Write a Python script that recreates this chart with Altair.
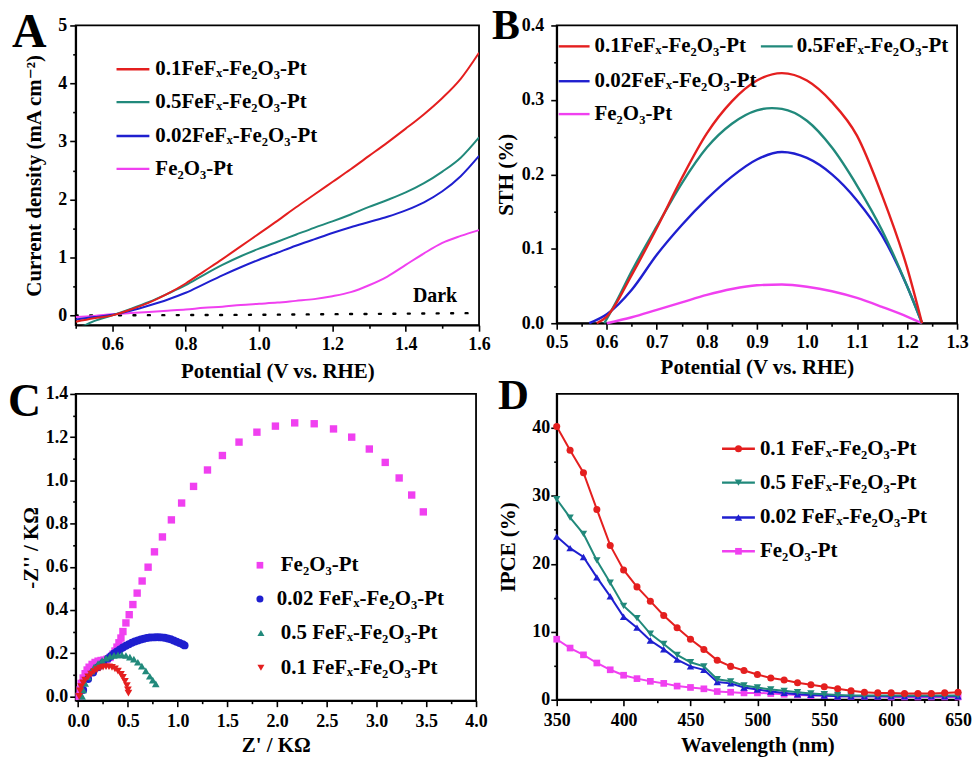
import altair as alt
import pandas as pd

SERIF = "Liberation Serif, Times New Roman, DejaVu Serif, serif"
RED, TEAL, BLUE, MAGENTA = "#e41f1f", "#21897b", "#1f1fcf", "#f040f0"

# ---------------- Panel A: J-V curves ----------------
a_v = [0.50, 0.55, 0.60, 0.65, 0.70, 0.75, 0.80, 0.85, 0.90, 0.95, 1.00, 1.05,
       1.10, 1.15, 1.20, 1.25, 1.30, 1.35, 1.40, 1.45, 1.50, 1.55, 1.60]
a_red = [-0.11, -0.05, 0.00, 0.10, 0.22, 0.37, 0.55, 0.76, 0.97, 1.19, 1.41, 1.63,
         1.86, 2.08, 2.30, 2.52, 2.75, 2.98, 3.22, 3.47, 3.75, 4.08, 4.53]
a_teal = [-0.25, -0.10, 0.00, 0.11, 0.23, 0.37, 0.52, 0.70, 0.87, 1.02, 1.15, 1.27,
          1.39, 1.51, 1.62, 1.74, 1.87, 1.99, 2.12, 2.28, 2.48, 2.72, 3.07]
a_blue = [-0.07, -0.03, 0.01, 0.08, 0.17, 0.27, 0.39, 0.54, 0.69, 0.83, 0.96, 1.08,
          1.20, 1.31, 1.42, 1.52, 1.61, 1.70, 1.81, 1.95, 2.14, 2.40, 2.75]
a_mag = [-0.03, -0.01, 0.02, 0.04, 0.06, 0.08, 0.10, 0.13, 0.15, 0.18, 0.20, 0.22,
         0.25, 0.28, 0.33, 0.40, 0.52, 0.67, 0.87, 1.07, 1.25, 1.37, 1.47]
dark_v = [0.50, 0.80, 1.00, 1.20, 1.40, 1.60]
dark_j = [0.00, 0.005, 0.01, 0.02, 0.03, 0.04]

# ---------------- Panel B: STH efficiency ----------------
b_red_v = [0.58, 0.60, 0.65, 0.70, 0.75, 0.80, 0.85, 0.90, 0.95, 1.00, 1.05, 1.10, 1.15, 1.20, 1.23]
b_red = [0.000, 0.009, 0.065, 0.128, 0.195, 0.255, 0.298, 0.326, 0.336, 0.326, 0.297, 0.252, 0.172, 0.075, 0.000]
b_teal_v = [0.595, 0.62, 0.65, 0.70, 0.75, 0.80, 0.85, 0.90, 0.93, 0.95, 1.00, 1.05, 1.10, 1.15, 1.20, 1.23]
b_teal = [0.000, 0.030, 0.070, 0.130, 0.188, 0.236, 0.268, 0.286, 0.289, 0.288, 0.272, 0.236, 0.185, 0.125, 0.050, 0.000]
b_blue_v = [0.565, 0.60, 0.65, 0.70, 0.75, 0.80, 0.85, 0.90, 0.95, 1.00, 1.05, 1.10, 1.15, 1.20, 1.23]
b_blue = [0.000, 0.012, 0.045, 0.092, 0.132, 0.167, 0.197, 0.220, 0.230, 0.222, 0.200, 0.165, 0.118, 0.050, 0.000]
b_mag_v = [0.60, 0.65, 0.70, 0.75, 0.80, 0.85, 0.90, 0.95, 1.00, 1.05, 1.10, 1.15, 1.20, 1.23]
b_mag = [0.000, 0.008, 0.018, 0.028, 0.038, 0.046, 0.051, 0.052, 0.049, 0.043, 0.034, 0.022, 0.009, 0.000]

# ---------------- Panel C: Nyquist plots ----------------
c_mag_x = [0.01, 0.02, 0.03, 0.05, 0.07, 0.09, 0.11, 0.14, 0.17, 0.20, 0.23, 0.26, 0.29, 0.32,
           0.35, 0.37, 0.39, 0.41, 0.43, 0.45, 0.48, 0.513, 0.55, 0.593, 0.643, 0.703, 0.767,
           0.847, 0.937, 1.04, 1.16, 1.30, 1.45, 1.617, 1.797, 1.983, 2.177, 2.373, 2.567,
           2.75, 2.927, 3.087, 3.227, 3.353, 3.47]
c_mag_y = [0.00, 0.03, 0.06, 0.085, 0.105, 0.122, 0.135, 0.148, 0.157, 0.163, 0.166, 0.168, 0.172, 0.18,
           0.195, 0.21, 0.228, 0.248, 0.27, 0.30, 0.34, 0.378, 0.425, 0.478, 0.534, 0.598, 0.669,
           0.738, 0.817, 0.895, 0.972, 1.048, 1.115, 1.177, 1.223, 1.251, 1.266, 1.262, 1.238,
           1.20, 1.145, 1.083, 1.011, 0.932, 0.854]
c_blue_x = [0.05, 0.10, 0.15, 0.20, 0.25, 0.30, 0.33, 0.36, 0.39, 0.42, 0.45, 0.48, 0.51, 0.54,
            0.57, 0.60, 0.63, 0.66, 0.69, 0.72, 0.75, 0.78, 0.81, 0.84, 0.87, 0.90, 0.93, 0.96,
            0.99, 1.02, 1.05, 1.07]
c_blue_y = [0.03, 0.08, 0.11, 0.135, 0.155, 0.175, 0.187, 0.198, 0.208, 0.217, 0.226, 0.234, 0.241, 0.248,
            0.254, 0.259, 0.263, 0.267, 0.270, 0.272, 0.273, 0.274, 0.274, 0.273, 0.271, 0.268, 0.264, 0.259,
            0.253, 0.247, 0.241, 0.236]
c_teal_x = [0.04, 0.05, 0.07, 0.10, 0.13, 0.16, 0.20, 0.24, 0.28, 0.32, 0.36, 0.40, 0.44, 0.48,
            0.52, 0.56, 0.60, 0.64, 0.68, 0.72, 0.75, 0.78]
c_teal_y = [0.00, 0.03, 0.06, 0.09, 0.115, 0.135, 0.152, 0.166, 0.177, 0.185, 0.190, 0.192, 0.192, 0.189,
            0.182, 0.172, 0.158, 0.140, 0.118, 0.093, 0.075, 0.058]
c_red_x = [0.01, 0.02, 0.03, 0.05, 0.07, 0.10, 0.13, 0.16, 0.19, 0.22, 0.25, 0.28, 0.31, 0.34,
           0.37, 0.40, 0.43, 0.45, 0.47, 0.49, 0.50, 0.505]
c_red_y = [0.00, 0.025, 0.045, 0.062, 0.075, 0.090, 0.103, 0.115, 0.124, 0.131, 0.135, 0.137, 0.137, 0.134,
           0.127, 0.117, 0.102, 0.088, 0.070, 0.050, 0.030, 0.015]

# ---------------- Panel D: IPCE spectra ----------------
d_wl = [350, 360, 370, 380, 390, 400, 410, 420, 430, 440, 450, 460, 470, 480, 490, 500,
        510, 520, 530, 540, 550, 560, 570, 580, 590, 600, 610, 620, 630, 640, 650]
d_red = [40.2, 36.7, 33.4, 28.0, 22.7, 19.1, 16.6, 14.5, 12.4, 10.6, 8.9, 7.4, 5.8, 4.9, 4.3, 3.7,
         3.2, 2.9, 2.5, 2.2, 1.9, 1.6, 1.3, 1.1, 1.0, 1.0, 0.9, 0.9, 0.9, 1.0, 1.1]
d_teal = [29.5, 26.8, 24.4, 20.5, 17.2, 13.8, 12.0, 9.7, 8.2, 6.6, 5.5, 4.9, 3.0, 2.7, 2.1, 1.8,
          1.5, 1.3, 1.1, 0.9, 0.8, 0.7, 0.6, 0.6, 0.6, 0.6, 0.6, 0.6, 0.6, 0.6, 0.6]
d_blue = [24.0, 22.3, 21.0, 18.0, 15.2, 12.2, 10.6, 8.7, 7.4, 5.9, 4.9, 4.4, 2.6, 2.4, 1.8, 1.5,
          1.2, 1.0, 0.8, 0.7, 0.6, 0.5, 0.5, 0.5, 0.5, 0.5, 0.5, 0.5, 0.5, 0.5, 0.5]
d_mag = [8.9, 7.6, 6.6, 5.4, 4.4, 3.6, 3.1, 2.7, 2.4, 2.0, 1.8, 1.6, 1.2, 1.1, 1.0, 1.0,
         0.9, 0.8, 0.7, 0.6, 0.6, 0.5, 0.5, 0.5, 0.5, 0.4, 0.4, 0.4, 0.4, 0.4, 0.4]

# Tick positions (major + minor) for each axis
a_xticks = [0.5, 0.6, 0.7, 0.8, 0.9, 1.0, 1.1, 1.2, 1.3, 1.4, 1.5, 1.6]
a_yticks = [0, 0.5, 1, 1.5, 2, 2.5, 3, 3.5, 4, 4.5, 5]
b_xticks = [0.5, 0.55, 0.6, 0.65, 0.7, 0.75, 0.8, 0.85, 0.9, 0.95, 1.0, 1.05, 1.1, 1.15, 1.2, 1.25, 1.3]
b_yticks = [0, 0.05, 0.1, 0.15, 0.2, 0.25, 0.3, 0.35, 0.4]
c_xticks = [0, 0.25, 0.5, 0.75, 1.0, 1.25, 1.5, 1.75, 2.0, 2.25, 2.5, 2.75, 3.0, 3.25, 3.5, 3.75, 4.0]
c_yticks = [0, 0.1, 0.2, 0.3, 0.4, 0.5, 0.6, 0.7, 0.8, 0.9, 1.0, 1.1, 1.2, 1.3, 1.4]
d_xticks = [350, 375, 400, 425, 450, 475, 500, 525, 550, 575, 600, 625, 650]
d_yticks = [0, 5, 10, 15, 20, 25, 30, 35, 40]

# Series names
N01 = "0.1FeFₓ-Fe₂O₃-Pt"
N05 = "0.5FeFₓ-Fe₂O₃-Pt"
N002 = "0.02FeFₓ-Fe₂O₃-Pt"
NFE = "Fe₂O₃-Pt"
S01 = "0.1 FeFₓ-Fe₂O₃-Pt"
S05 = "0.5 FeFₓ-Fe₂O₃-Pt"
S002 = "0.02 FeFₓ-Fe₂O₃-Pt"

KEY_FONT = 21


def tick_axis(values, step, fmt, title, title_padding, label_padding):
    # major ticks drawn full length, minor ticks shortened with a dash pattern
    major = f"abs(datum.value / {step} - round(datum.value / {step})) < 0.001"
    return alt.Axis(
        values=values,
        title=title,
        titlePadding=title_padding,
        labelExpr=f"({major}) ? format(datum.value, '{fmt}') : ''",
        tickSize=6,
        tickDash={"condition": {"test": major, "value": [10, 0]}, "value": [3, 10]},
        labelPadding=label_padding,
        labelOverlap=False,
        labelFlush=False,
        grid=False,
    )


def xy(xs, ys):
    return pd.DataFrame({"x": xs, "y": ys})


def letter(ch, dx, dy, size):
    return alt.Chart(pd.DataFrame({"t": [ch]})).mark_text(
        align="left", baseline="alphabetic", font=SERIF, fontWeight="bold",
        fontSize=size, color="black"
    ).encode(x=alt.value(dx), y=alt.value(dy), text="t:N")


def key_text(label, tx, ty):
    return alt.Chart(pd.DataFrame({"t": [label]})).mark_text(
        align="left", baseline="middle", font=SERIF, fontWeight="bold",
        fontSize=KEY_FONT, color="black"
    ).encode(x=alt.value(tx), y=alt.value(ty), text="t:N")


def key_line(label, color, x0, x1, ty, tx):
    rule = alt.Chart(pd.DataFrame({"t": [label]})).mark_rule(
        color=color, strokeWidth=2.4
    ).encode(x=alt.value(x0), x2=alt.value(x1), y=alt.value(ty))
    return [rule, key_text(label, tx, ty)]


def key_point(label, color, shape, size, px, ty, tx):
    pt = alt.Chart(pd.DataFrame({"t": [label]})).mark_point(
        filled=True, shape=shape, size=size, color=color, opacity=1
    ).encode(x=alt.value(px), y=alt.value(ty))
    return [pt, key_text(label, tx, ty)]


# ---------- Panel A ----------
ax_a = tick_axis(a_xticks, 0.2, ".1f", "Potential (V vs. RHE)", 7, 4)
ay_a = tick_axis(a_yticks, 1, "d", "Current density (mA cm⁻²)", 13, 3)
xs_a = alt.Scale(domain=[0.5, 1.6], nice=False, zero=False)
ys_a = alt.Scale(domain=[-0.17, 5], nice=False, zero=False)


def a_line(ys, color):
    return alt.Chart(xy(a_v, ys)).mark_line(
        color=color, strokeWidth=2, clip=True, interpolate="monotone"
    ).encode(x=alt.X("x:Q", scale=xs_a, axis=ax_a), y=alt.Y("y:Q", scale=ys_a, axis=ay_a))


dark = alt.Chart(xy(dark_v, dark_j)).mark_line(
    color="black", strokeWidth=2.4, strokeDash=[2, 12.5], strokeCap="round", clip=True
).encode(x=alt.X("x:Q", scale=xs_a, axis=ax_a), y=alt.Y("y:Q", scale=ys_a, axis=ay_a))
dark_lbl = alt.Chart(pd.DataFrame({"x": [1.48], "y": [0.33], "t": ["Dark"]})).mark_text(
    font=SERIF, fontWeight="bold", fontSize=20, color="black", baseline="middle"
).encode(x=alt.X("x:Q", scale=xs_a, axis=ax_a), y=alt.Y("y:Q", scale=ys_a, axis=ay_a), text="t:N")

panel_a = alt.layer(
    dark, a_line(a_mag, MAGENTA), a_line(a_blue, BLUE), a_line(a_teal, TEAL), a_line(a_red, RED),
    dark_lbl,
    *key_line(N01, RED, 41, 74, 44, 80),
    *key_line(N05, TEAL, 41, 74, 77, 80),
    *key_line(N002, BLUE, 41, 74, 111, 80),
    *key_line(NFE, MAGENTA, 41, 74, 144, 80),
    letter("A", -64, 22, 48),
).properties(width=405, height=301)

# ---------- Panel B ----------
ax_b = tick_axis(b_xticks, 0.1, ".1f", "Potential (V vs. RHE)", 5, 4)
ay_b = tick_axis(b_yticks, 0.1, ".1f", "STH (%)", 5, 7)
xs_b = alt.Scale(domain=[0.5, 1.3], nice=False, zero=False)
ys_b = alt.Scale(domain=[0, 0.4], nice=False, zero=False)


def b_line(xs, ys, color):
    return alt.Chart(xy(xs, ys)).mark_line(
        color=color, strokeWidth=2.4, interpolate="monotone"
    ).encode(x=alt.X("x:Q", scale=xs_b, axis=ax_b), y=alt.Y("y:Q", scale=ys_b, axis=ay_b))


panel_b = alt.layer(
    b_line(b_mag_v, b_mag, MAGENTA), b_line(b_blue_v, b_blue, BLUE),
    b_line(b_teal_v, b_teal, TEAL), b_line(b_red_v, b_red, RED),
    *key_line(N01, RED, 2, 33, 21, 38),
    *key_line(N05, TEAL, 205, 237, 21, 241),
    *key_line(N002, BLUE, 2, 33, 56, 38),
    *key_line(NFE, MAGENTA, 2, 33, 89, 38),
    letter("B", -65, 14, 42),
).properties(width=402, height=299)

# ---------- Panel C ----------
ax_c = tick_axis(c_xticks, 0.5, ".1f", "Z' / KΩ", 4, 6)
ay_c = tick_axis(c_yticks, 0.2, ".1f", "-Z'' / KΩ", 4, 2)
xs_c = alt.Scale(domain=[-0.025, 4.0], nice=False, zero=False)
ys_c = alt.Scale(domain=[-0.02, 1.4], nice=False, zero=False)


def c_pts(xs, ys, color, shape, size):
    return alt.Chart(xy(xs, ys)).mark_point(
        filled=True, shape=shape, size=size, color=color, opacity=1
    ).encode(x=alt.X("x:Q", scale=xs_c, axis=ax_c), y=alt.Y("y:Q", scale=ys_c, axis=ay_c))


panel_c = alt.layer(
    c_pts(c_mag_x, c_mag_y, MAGENTA, "square", 55),
    c_pts(c_blue_x, c_blue_y, BLUE, "circle", 64),
    c_pts(c_teal_x, c_teal_y, TEAL, "triangle-up", 60),
    c_pts(c_red_x, c_red_y, RED, "triangle-down", 60),
    *key_point(NFE, MAGENTA, "square", 45, 185, 172, 206),
    *key_point(S002, BLUE, "circle", 50, 185, 206, 202),
    *key_point(S05, TEAL, "triangle-up", 50, 186, 240, 206),
    *key_point(S01, RED, "triangle-down", 50, 186, 275, 206),
    letter("C", -68, 22, 46),
).properties(width=402, height=308)

# ---------- Panel D ----------
ax_d = tick_axis(d_xticks, 50, "d", "Wavelength (nm)", 5, 6)
ay_d = tick_axis(d_yticks, 10, "d", "IPCE (%)", 13, 1)
xs_d = alt.Scale(domain=[350, 650], nice=False, zero=False)
ys_d = alt.Scale(domain=[0, 45], nice=False, zero=False)


def d_line(ys, color, shape, size):
    return alt.Chart(xy(d_wl, ys)).mark_line(
        color=color, strokeWidth=2,
        point=alt.OverlayMarkDef(filled=True, shape=shape, size=size, color=color, opacity=1),
    ).encode(x=alt.X("x:Q", scale=xs_d, axis=ax_d), y=alt.Y("y:Q", scale=ys_d, axis=ay_d))


def d_key(label, color, shape, size, ty):
    rule, text = key_line(label, color, 166, 199, ty, 204)
    pt = alt.Chart(pd.DataFrame({"t": [label]})).mark_point(
        filled=True, shape=shape, size=size, color=color, opacity=1
    ).encode(x=alt.value(182.5), y=alt.value(ty))
    return [rule, pt, text]


panel_d = alt.layer(
    d_line(d_mag, MAGENTA, "square", 45),
    d_line(d_blue, BLUE, "triangle-up", 55),
    d_line(d_teal, TEAL, "triangle-down", 55),
    d_line(d_red, RED, "circle", 50),
    *d_key(S01, RED, "circle", 50, 55),
    *d_key(S05, TEAL, "triangle-down", 55, 89),
    *d_key(S002, BLUE, "triangle-up", 55, 124),
    *d_key(NFE, MAGENTA, "square", 45, 158),
    letter("D", -59, 15, 43),
).properties(width=403, height=307)

chart = alt.concat(
    panel_a, panel_b, panel_c, panel_d,
    columns=2, spacing={"row": 69, "column": 78}, bounds="flush",
).configure_view(
    stroke="black", strokeWidth=1.8
).configure_axis(
    domainColor="black", domainWidth=1.8, tickColor="black", tickWidth=1.6,
    labelFont=SERIF, labelFontWeight="bold", labelFontSize=18, labelColor="black",
    titleFont=SERIF, titleFontWeight="bold", titleFontSize=21, titleColor="black",
).properties(
    padding={"left": 7, "top": 3, "right": 0, "bottom": 0},
    background="white",
)

chart.save("out.html", embed_options={"renderer": "svg", "actions": False})
